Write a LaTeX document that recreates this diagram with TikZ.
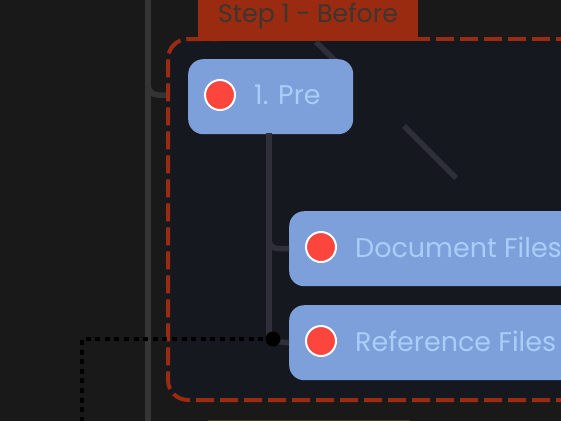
\documentclass[tikz,border=0pt]{standalone}
\usepackage{fontspec}
\setmainfont{Poppins}
\newfontfamily\lblfont{Poppins}
\newfontfamily\ttlfont{Poppins}
\definecolor{bgd}{HTML}{191919}
\definecolor{panel}{HTML}{161820}
\definecolor{redd}{HTML}{9A2B10}
\definecolor{wire}{HTML}{2E2F38}
\definecolor{wireo}{HTML}{343434}
\definecolor{boxb}{HTML}{7DA0DA}
\definecolor{txtb}{HTML}{AACDF9}
\definecolor{dot}{HTML}{FC453C}
\definecolor{titl}{HTML}{3C3530}
\definecolor{strip}{HTML}{4A3C14}
\tikzset{
 stepbox/.style={fill=boxb,rounded corners=15pt,draw=none},
 lbl/.style={text=txtb,font=\lblfont\fontsize{27}{28}\selectfont,anchor=west,inner sep=0},
 red dot/.style={circle,fill=dot,draw=white,line width=2pt,minimum size=30pt,inner sep=0},
 wireline/.style={wire,line width=5.5pt},
 redline/.style={redd,line width=4pt,dash pattern=on 18pt off 6pt},
}
\begin{document}
\begin{tikzpicture}[x=1pt,y=-1pt]
\useasboundingbox (0,0) rectangle (561,421);
\fill[bgd] (0,0) rectangle (561,421);
\fill[strip] (208,420) rectangle (410,421);
\draw[wireo,line width=6pt] (148,0) -- (148,421);
\draw[wireo,line width=5.5pt,rounded corners=10pt] (148,70) |- (188,95);
\fill[panel,rounded corners=20pt] (168,39) rectangle (600,400);
\draw[redline,rounded corners=20pt] (574,400) -- (168,400) -- (168,39) -- (220,39);
\draw[redline] (598,39) -- (190,39);
\node[fill=redd,minimum width=220pt,minimum height=56pt,inner sep=0,text=titl,text height=19pt,text depth=0pt,font=\ttlfont\fontsize{25.3}{27}\selectfont] (title) at (308,13) {Step 1 - Before};
\fill[redd] (196,37) rectangle (430,41);
\coordinate (wa) at (316,42);
\coordinate (wb) at (345,70);
\draw[wireline] (wa) -- (wb);
\coordinate (wc) at (404,126);
\coordinate (wd) at (456,178);
\draw[wireline] (wc) -- (wd);
\node[stepbox,minimum width=165pt,minimum height=75pt,anchor=north west] (pre) at (188,59) {};
\node[stepbox,minimum width=300pt,minimum height=75pt,anchor=north west] (doc) at (289,211) {};
\node[stepbox,minimum width=300pt,minimum height=75pt,anchor=north west] (ref) at (289,305) {};
\draw[wireline] (269,133) -- (269,339);
\draw[wireline,rounded corners=9pt] (269,200) |- (doc.west);
\draw[wireline] (269,341) -- (ref.west);
\node[red dot] (d1) at (220,95) {};
\node[red dot] (d2) at (321,247) {};
\node[red dot] (d3) at (321,341) {};
\node[lbl] (t1) at (254,95) {1. Pre};
\node[lbl] (t2) at (355,247) {Document Files};
\node[lbl] (t3) at (355,341) {Reference Files};
\draw[black,line width=4.6pt,dash pattern=on 5pt off 4.6pt] (273,339) -- (82,339) -- (82,421);
\node[circle,fill=black,minimum size=15pt,inner sep=0] (j) at (273,339) {};
\end{tikzpicture}
\end{document}
